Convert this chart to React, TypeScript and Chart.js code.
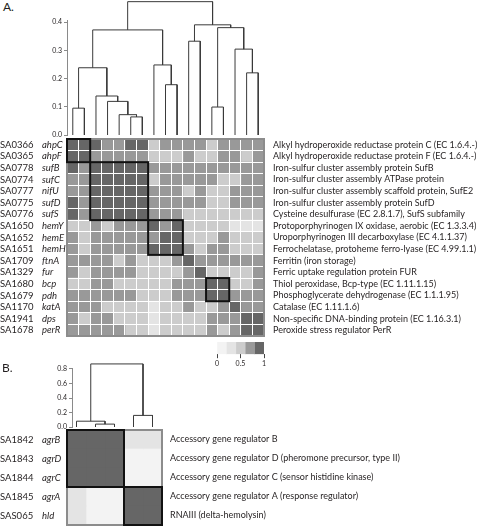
import React, { useEffect, useRef } from 'react';
import { Chart, registerables } from 'chart.js';

Chart.register(...registerables);

const FONT = 'Lato, "Open Sans", "DejaVu Sans", sans-serif';
const TEXT = '#231f20';
const LINE = '#3a3a3a';
const AXIS = '#8a8a8a';
const BORDER = '#8c8c8c';

// ---------------- Panel A ----------------
const idsA = ['SA0366', 'SA0365', 'SA0778', 'SA0774', 'SA0777', 'SA0775', 'SA0776', 'SA1650', 'SA1652', 'SA1651', 'SA1709', 'SA1329', 'SA1680', 'SA1679', 'SA1170', 'SA1941', 'SA1678'];
const genesA = ['ahpC', 'ahpF', 'sufB', 'sufC', 'nifU', 'sufD', 'sufS', 'hemY', 'hemE', 'hemH', 'ftnA', 'fur', 'bcp', 'pdh', 'katA', 'dps', 'perR'];
const productsA = [
  'Alkyl hydroperoxide reductase protein C (EC 1.6.4.-)',
  'Alkyl hydroperoxide reductase protein F (EC 1.6.4.-)',
  'Iron-sulfur cluster assembly protein SufB',
  'Iron-sulfur cluster assembly ATPase protein',
  'Iron-sulfur cluster assembly scaffold protein, SufE2',
  'Iron-sulfur cluster assembly protein SufD',
  'Cysteine desulfurase (EC 2.8.1.7), SufS subfamily',
  'Protoporphyrinogen IX oxidase, aerobic (EC 1.3.3.4)',
  'Uroporphyrinogen III decarboxylase (EC 4.1.1.37)',
  'Ferrochelatase, protoheme ferro-lyase (EC 4.99.1.1)',
  'Ferritin (iron storage)',
  'Ferric uptake regulation protein FUR',
  'Thiol peroxidase, Bcp-type (EC 1.11.1.15)',
  'Phosphoglycerate dehydrogenase (EC 1.1.1.95)',
  'Catalase (EC 1.11.1.6)',
  'Non-specific DNA-binding protein (EC 1.16.3.1)',
  'Peroxide stress regulator PerR',
];
const simA = [
  [1, 1, 1, .75, .75, 1, 1, .5, .75, .75, .75, .75, .5, .75, .75, .75, .75],
  [1, 1, .75, .75, .75, .75, .75, .5, .5, .5, .75, .5, .5, .75, .75, .5, .75],
  [1, .75, 1, 1, 1, 1, 1, .75, .75, .75, .75, .75, .75, .75, .75, .75, .75],
  [.75, .75, 1, 1, 1, 1, 1, .5, .75, .75, .75, .75, .75, .5, .5, .75, .75],
  [.75, .75, 1, 1, 1, 1, 1, .75, .75, .75, .5, .75, .5, .5, .75, .75, .75],
  [1, .75, 1, 1, 1, 1, 1, .75, .75, .75, .75, .75, .5, .5, .75, .75, .75],
  [1, .75, 1, 1, 1, 1, 1, .75, .75, .75, .5, .5, .5, .5, .5, .5, .5],
  [.5, .5, .75, .5, .75, .75, .75, 1, .75, 1, .5, .5, .5, .5, .25, .25, .25],
  [.75, .5, .75, .75, .75, .75, .75, .75, 1, 1, .5, .5, .5, .75, .5, .5, .5],
  [.75, .5, .75, .75, .75, .75, .75, 1, 1, 1, .75, .5, .75, .75, .5, .5, .5],
  [.75, .75, .75, .75, .5, .75, .5, .5, .5, .75, 1, .75, .75, .75, .75, .75, .75],
  [.75, .5, .75, .75, .75, .75, .5, .5, .5, .5, .75, 1, .5, .5, .5, .5, .75],
  [.5, .5, .75, .75, .5, .5, .5, .5, .5, .75, .75, .75, 1, 1, .5, .5, .75],
  [.75, .75, .75, .75, .75, .75, .5, .5, .5, .75, .75, .75, 1, 1, .75, .75, .75],
  [.75, .75, .75, .5, .5, .5, .5, .25, .5, .5, .75, .5, .5, .75, 1, .75, .75],
  [.75, .5, .75, .75, .5, .5, .5, .25, .5, .5, .5, .5, .75, .75, .75, 1, 1],
  [.75, .75, .75, .75, .75, .5, .5, .25, .5, .5, .5, .5, .75, .5, .75, 1, 1],
];
const boxesA: [number, number][] = [[0, 1], [2, 6], [7, 9], [12, 13]];
// merges: [left, right, height]; ids < n are leaves, n + k is the k-th merge
const mergesA: [number, number, number][] = [
  [0, 1, 0.095],
  [5, 6, 0.064],
  [4, 18, 0.072],
  [3, 19, 0.119],
  [2, 20, 0.138],
  [17, 21, 0.238],
  [8, 9, 0.178],
  [7, 23, 0.248],
  [22, 24, 0.372],
  [10, 11, 0.332],
  [12, 13, 0.099],
  [15, 16, 0.22],
  [14, 28, 0.304],
  [27, 29, 0.38],
  [26, 30, 0.39],
  [25, 31, 0.472],
];
const dendroTicksA = [0, 0.1, 0.2, 0.3, 0.4];

// ---------------- Panel B ----------------
const idsB = ['SA1842', 'SA1843', 'SA1844', 'SA1845', 'SAS065'];
const genesB = ['agrB', 'agrD', 'agrC', 'agrA', 'hld'];
const productsB = [
  'Accessory gene regulator B',
  'Accessory gene regulator D (pheromone precursor, type II)',
  'Accessory gene regulator C (sensor histidine kinase)',
  'Accessory gene regulator A (response regulator)',
  'RNAIII (delta-hemolysin)',
];
const simB = [
  [1, 1, 1, 0.25, 0.25],
  [1, 1, 1, 0, 0],
  [1, 1, 1, 0, 0],
  [0.25, 0, 0, 1, 1],
  [0.25, 0, 0, 1, 1],
];
const boxesB: [number, number][] = [[0, 2], [3, 4]];
const mergesB: [number, number, number][] = [
  [1, 2, 0.04],
  [0, 5, 0.08],
  [3, 4, 0.16],
  [6, 7, 0.87],
];
const dendroTicksB = [0, 0.2, 0.4, 0.6, 0.8];

// ---------------- Legend ----------------
const legendLevels = [0, 0.25, 0.5, 0.75, 1];
const legendBinWidths = [0.2, 0.2, 0.2, 0.2, 0.2];
const legendTicks = [0, 0.5, 1];

const shades = ['#f3f3f3', '#e4e4e4', '#cccccc', '#999999', '#666666'];
const shadeOf = (v: number) => shades[Math.max(0, Math.min(4, Math.round(v * 4)))];

const LABEL_SIZE = 9.5;
const DESC_SIZE = 9;
const ID_W = 42;
const GENE_W = 25;
const ID_X = 3;
const GENE_X = 44;

function dendroSegments(n: number, merges: [number, number, number][]) {
  const pos: number[] = [];
  const hgt: number[] = [];
  for (let i = 0; i < n; i++) {
    pos.push(i + 0.5);
    hgt.push(0);
  }
  const segs: { x: number; y: number }[][] = [];
  merges.forEach(([a, b, h]) => {
    segs.push([
      { x: pos[a], y: hgt[a] },
      { x: pos[a], y: h },
      { x: pos[b], y: h },
      { x: pos[b], y: hgt[b] },
    ]);
    pos.push((pos[a] + pos[b]) / 2);
    hgt.push(h);
  });
  return segs;
}

function Dendrogram(props: any) {
  const { n, merges, ticks, left, top, width, height, axisW, padTop, padBottom, yMax, xMin } = props;
  const ref = useRef<HTMLCanvasElement>(null);
  useEffect(() => {
    const segs = dendroSegments(n, merges);
    const chart = new Chart(ref.current as HTMLCanvasElement, {
      type: 'scatter',
      data: {
        datasets: segs.map((d) => ({
          data: d,
          showLine: true,
          borderColor: LINE,
          borderWidth: 1,
          pointRadius: 0,
          pointHoverRadius: 0,
          clip: false,
          fill: false,
          tension: 0,
        })),
      } as any,
      options: {
        animation: false,
        responsive: false,
        events: [],
        plugins: { legend: { display: false }, tooltip: { enabled: false } },
        layout: { padding: { top: padTop, bottom: padBottom, left: 0, right: 0 } },
        scales: {
          x: { type: 'linear', min: xMin, max: n, display: false },
          y: {
            type: 'linear',
            min: 0,
            max: yMax,
            position: 'left',
            afterFit: (s: any) => {
              s.width = axisW;
              s.paddingTop = 0;
              s.paddingBottom = 0;
            },
            afterBuildTicks: (s: any) => {
              s.ticks = ticks.map((v: number) => ({ value: v }));
            },
            grid: { drawOnChartArea: false, drawTicks: true, tickLength: 3, color: AXIS, lineWidth: 1 },
            border: { display: true, color: AXIS, width: 1 },
            ticks: {
              font: { family: FONT, size: 7 },
              color: TEXT,
              padding: 2,
              callback: (v: any) => Number(v).toFixed(1),
            },
          },
        },
      } as any,
    });
    return () => chart.destroy();
  }, []);
  return (
    <canvas
      ref={ref}
      width={width}
      height={height}
      style={{ position: 'absolute', left, top, width, height }}
    />
  );
}

function Heatmap(props: any) {
  const { ids, genes, products, values, boxes, showGrid, top, height, padTop, padBottom, descW, descPad } = props;
  const ref = useRef<HTMLCanvasElement>(null);
  useEffect(() => {
    const n = ids.length;
    const mc = document.createElement('canvas').getContext('2d') as CanvasRenderingContext2D;
    mc.font = `${LABEL_SIZE}px ${FONT}`;
    const wId = Math.max(...ids.map((t: string) => mc.measureText(t).width));
    mc.font = `italic ${LABEL_SIZE}px ${FONT}`;
    const wGene = Math.max(...genes.map((t: string) => mc.measureText(t).width));

    const datasets = genes.map((g: string, j: number) => ({
      label: g,
      data: values.map(() => 1),
      backgroundColor: values.map((row: number[]) => shadeOf(row[j])),
      borderWidth: 0,
      barPercentage: 1,
      categoryPercentage: 1,
      xAxisID: 'x',
      yAxisID: 'y',
    }));

    const boxPlugin = {
      id: 'clusterBoxes',
      afterDraw(chart: any) {
        const { ctx, chartArea: a } = chart;
        const x = chart.scales.x;
        const y = chart.scales.y;
        const rowH = Math.abs(y.getPixelForValue(1) - y.getPixelForValue(0));
        ctx.save();
        ctx.lineWidth = 2;
        ctx.strokeStyle = BORDER;
        ctx.strokeRect(a.left, a.top, a.right - a.left, a.bottom - a.top);
        ctx.strokeStyle = '#111111';
        boxes.forEach(([s, e]: [number, number]) => {
          const x0 = x.getPixelForValue(s);
          const x1 = x.getPixelForValue(e + 1);
          const y0 = y.getPixelForValue(s) - rowH / 2;
          const y1 = y.getPixelForValue(e) + rowH / 2;
          ctx.strokeRect(x0, y0, x1 - x0, y1 - y0);
        });
        ctx.restore();
      },
    };

    const chart = new Chart(ref.current as HTMLCanvasElement, {
      type: 'bar',
      data: { labels: genes, datasets } as any,
      options: {
        indexAxis: 'y',
        animation: false,
        responsive: false,
        events: [],
        plugins: { legend: { display: false }, tooltip: { enabled: false } },
        layout: { padding: { top: padTop, bottom: padBottom, left: 0, right: 0 } },
        scales: {
          x: {
            type: 'linear',
            axis: 'x',
            stacked: true,
            min: 0,
            max: n,
            display: showGrid,
            afterBuildTicks: (s: any) => {
              s.ticks = values[0].map((_: number, j: number) => ({ value: j })).concat([{ value: n }]);
            },
            afterFit: (s: any) => {
              s.height = 0;
              s.paddingLeft = 0;
              s.paddingRight = 0;
            },
            ticks: { display: false },
            grid: { color: '#ffffff', lineWidth: 1, drawTicks: false, z: 1 },
            border: { display: false },
          },
          y: {
            type: 'category',
            axis: 'y',
            labels: genes,
            stacked: true,
            offset: true,
            position: 'left',
            weight: 0,
            afterFit: (s: any) => {
              s.width = GENE_W;
              s.paddingTop = 0;
              s.paddingBottom = 0;
            },
            grid: { display: showGrid, offset: true, color: '#ffffff', lineWidth: 1, drawTicks: false, z: 1 },
            border: { display: false },
            ticks: {
              autoSkip: false,
              crossAlign: 'far',
              padding: GENE_W - (GENE_X - ID_W) - wGene,
              font: { family: FONT, size: LABEL_SIZE, style: 'italic' },
              color: TEXT,
            },
          },
          yId: {
            type: 'category',
            axis: 'y',
            labels: ids,
            offset: true,
            position: 'left',
            weight: 1,
            afterFit: (s: any) => {
              s.width = ID_W;
              s.paddingTop = 0;
              s.paddingBottom = 0;
            },
            grid: { display: false, drawTicks: false },
            border: { display: false },
            ticks: {
              autoSkip: false,
              crossAlign: 'far',
              padding: ID_W - ID_X - wId,
              font: { family: FONT, size: LABEL_SIZE },
              color: TEXT,
            },
          },
          yDesc: {
            type: 'category',
            axis: 'y',
            labels: products,
            offset: true,
            position: 'right',
            afterFit: (s: any) => {
              s.width = descW;
              s.paddingTop = 0;
              s.paddingBottom = 0;
            },
            grid: { display: false, drawTicks: false },
            border: { display: false },
            ticks: {
              autoSkip: false,
              crossAlign: 'near',
              padding: descPad,
              font: { family: FONT, size: DESC_SIZE },
              color: TEXT,
            },
          },
        },
      } as any,
      plugins: [boxPlugin],
    });
    return () => chart.destroy();
  }, []);
  return (
    <canvas
      ref={ref}
      width={480}
      height={height}
      style={{ position: 'absolute', left: 0, top, width: 480, height }}
    />
  );
}

function ColorLegend(props: any) {
  const { left, top, width, height, padL, padR, padT, padB } = props;
  const ref = useRef<HTMLCanvasElement>(null);
  useEffect(() => {
    const chart = new Chart(ref.current as HTMLCanvasElement, {
      type: 'bar',
      data: {
        labels: ['key'],
        datasets: legendLevels.map((lv, i) => ({
          data: [legendBinWidths[i]],
          backgroundColor: shadeOf(lv),
          borderWidth: 0,
          barPercentage: 1,
          categoryPercentage: 1,
        })),
      },
      options: {
        indexAxis: 'y',
        animation: false,
        responsive: false,
        events: [],
        plugins: { legend: { display: false }, tooltip: { enabled: false } },
        layout: { padding: { left: padL, right: padR, top: padT, bottom: padB } },
        scales: {
          x: {
            type: 'linear',
            stacked: true,
            min: 0,
            max: 1,
            afterBuildTicks: (s: any) => {
              s.ticks = legendTicks.map((v) => ({ value: v }));
            },
            afterFit: (s: any) => {
              s.paddingLeft = 0;
              s.paddingRight = 0;
            },
            grid: { drawOnChartArea: false, drawTicks: true, tickLength: 4, color: '#444444' },
            border: { display: false },
            ticks: {
              font: { family: FONT, size: 7 },
              color: TEXT,
              padding: 1,
              maxRotation: 0,
              callback: (v: any) => String(v),
            },
          },
          y: { type: 'category', stacked: true, display: false, offset: true },
        },
      } as any,
    });
    return () => chart.destroy();
  }, []);
  return (
    <canvas
      ref={ref}
      width={width}
      height={height}
      style={{ position: 'absolute', left, top, width, height }}
    />
  );
}

export default function App() {
  const labelStyle: React.CSSProperties = {
    position: 'absolute',
    fontFamily: FONT,
    fontSize: 12,
    color: TEXT,
    lineHeight: '14px',
  };
  return (
    <div style={{ position: 'absolute', left: 0, top: 0, width: 480, height: 526, background: '#ffffff', overflow: 'hidden' }}>
      <div style={{ ...labelStyle, left: 3, top: 0 }}>A.</div>
      <Dendrogram
        n={genesA.length}
        merges={mergesA}
        ticks={dendroTicksA}
        left={0}
        top={0}
        width={264}
        height={140}
        axisW={67}
        padTop={20}
        padBottom={5}
        yMax={115 / 282.5}
        xMin={0}
      />
      <Heatmap
        ids={idsA}
        genes={genesA}
        products={productsA}
        values={simA}
        boxes={boxesA}
        showGrid={true}
        top={131}
        height={213}
        padTop={8}
        padBottom={8}
        descW={216}
        descPad={9}
      />
      <ColorLegend left={200} top={338} width={80} height={32} padL={17} padR={16} padT={4} padB={3.6} />
      <div style={{ ...labelStyle, left: 2, top: 361 }}>B.</div>
      <Dendrogram
        n={genesB.length}
        merges={mergesB}
        ticks={dendroTicksB}
        left={0}
        top={355}
        width={162}
        height={77}
        axisW={72}
        padTop={13}
        padBottom={5}
        yMax={59 / 72.5}
        xMin={5 - 90 / 19}
      />
      <Heatmap
        ids={idsB}
        genes={genesB}
        products={productsB}
        values={simB}
        boxes={boxesB}
        showGrid={false}
        top={422}
        height={104}
        padTop={8}
        padBottom={1}
        descW={318}
        descPad={8}
      />
    </div>
  );
}
